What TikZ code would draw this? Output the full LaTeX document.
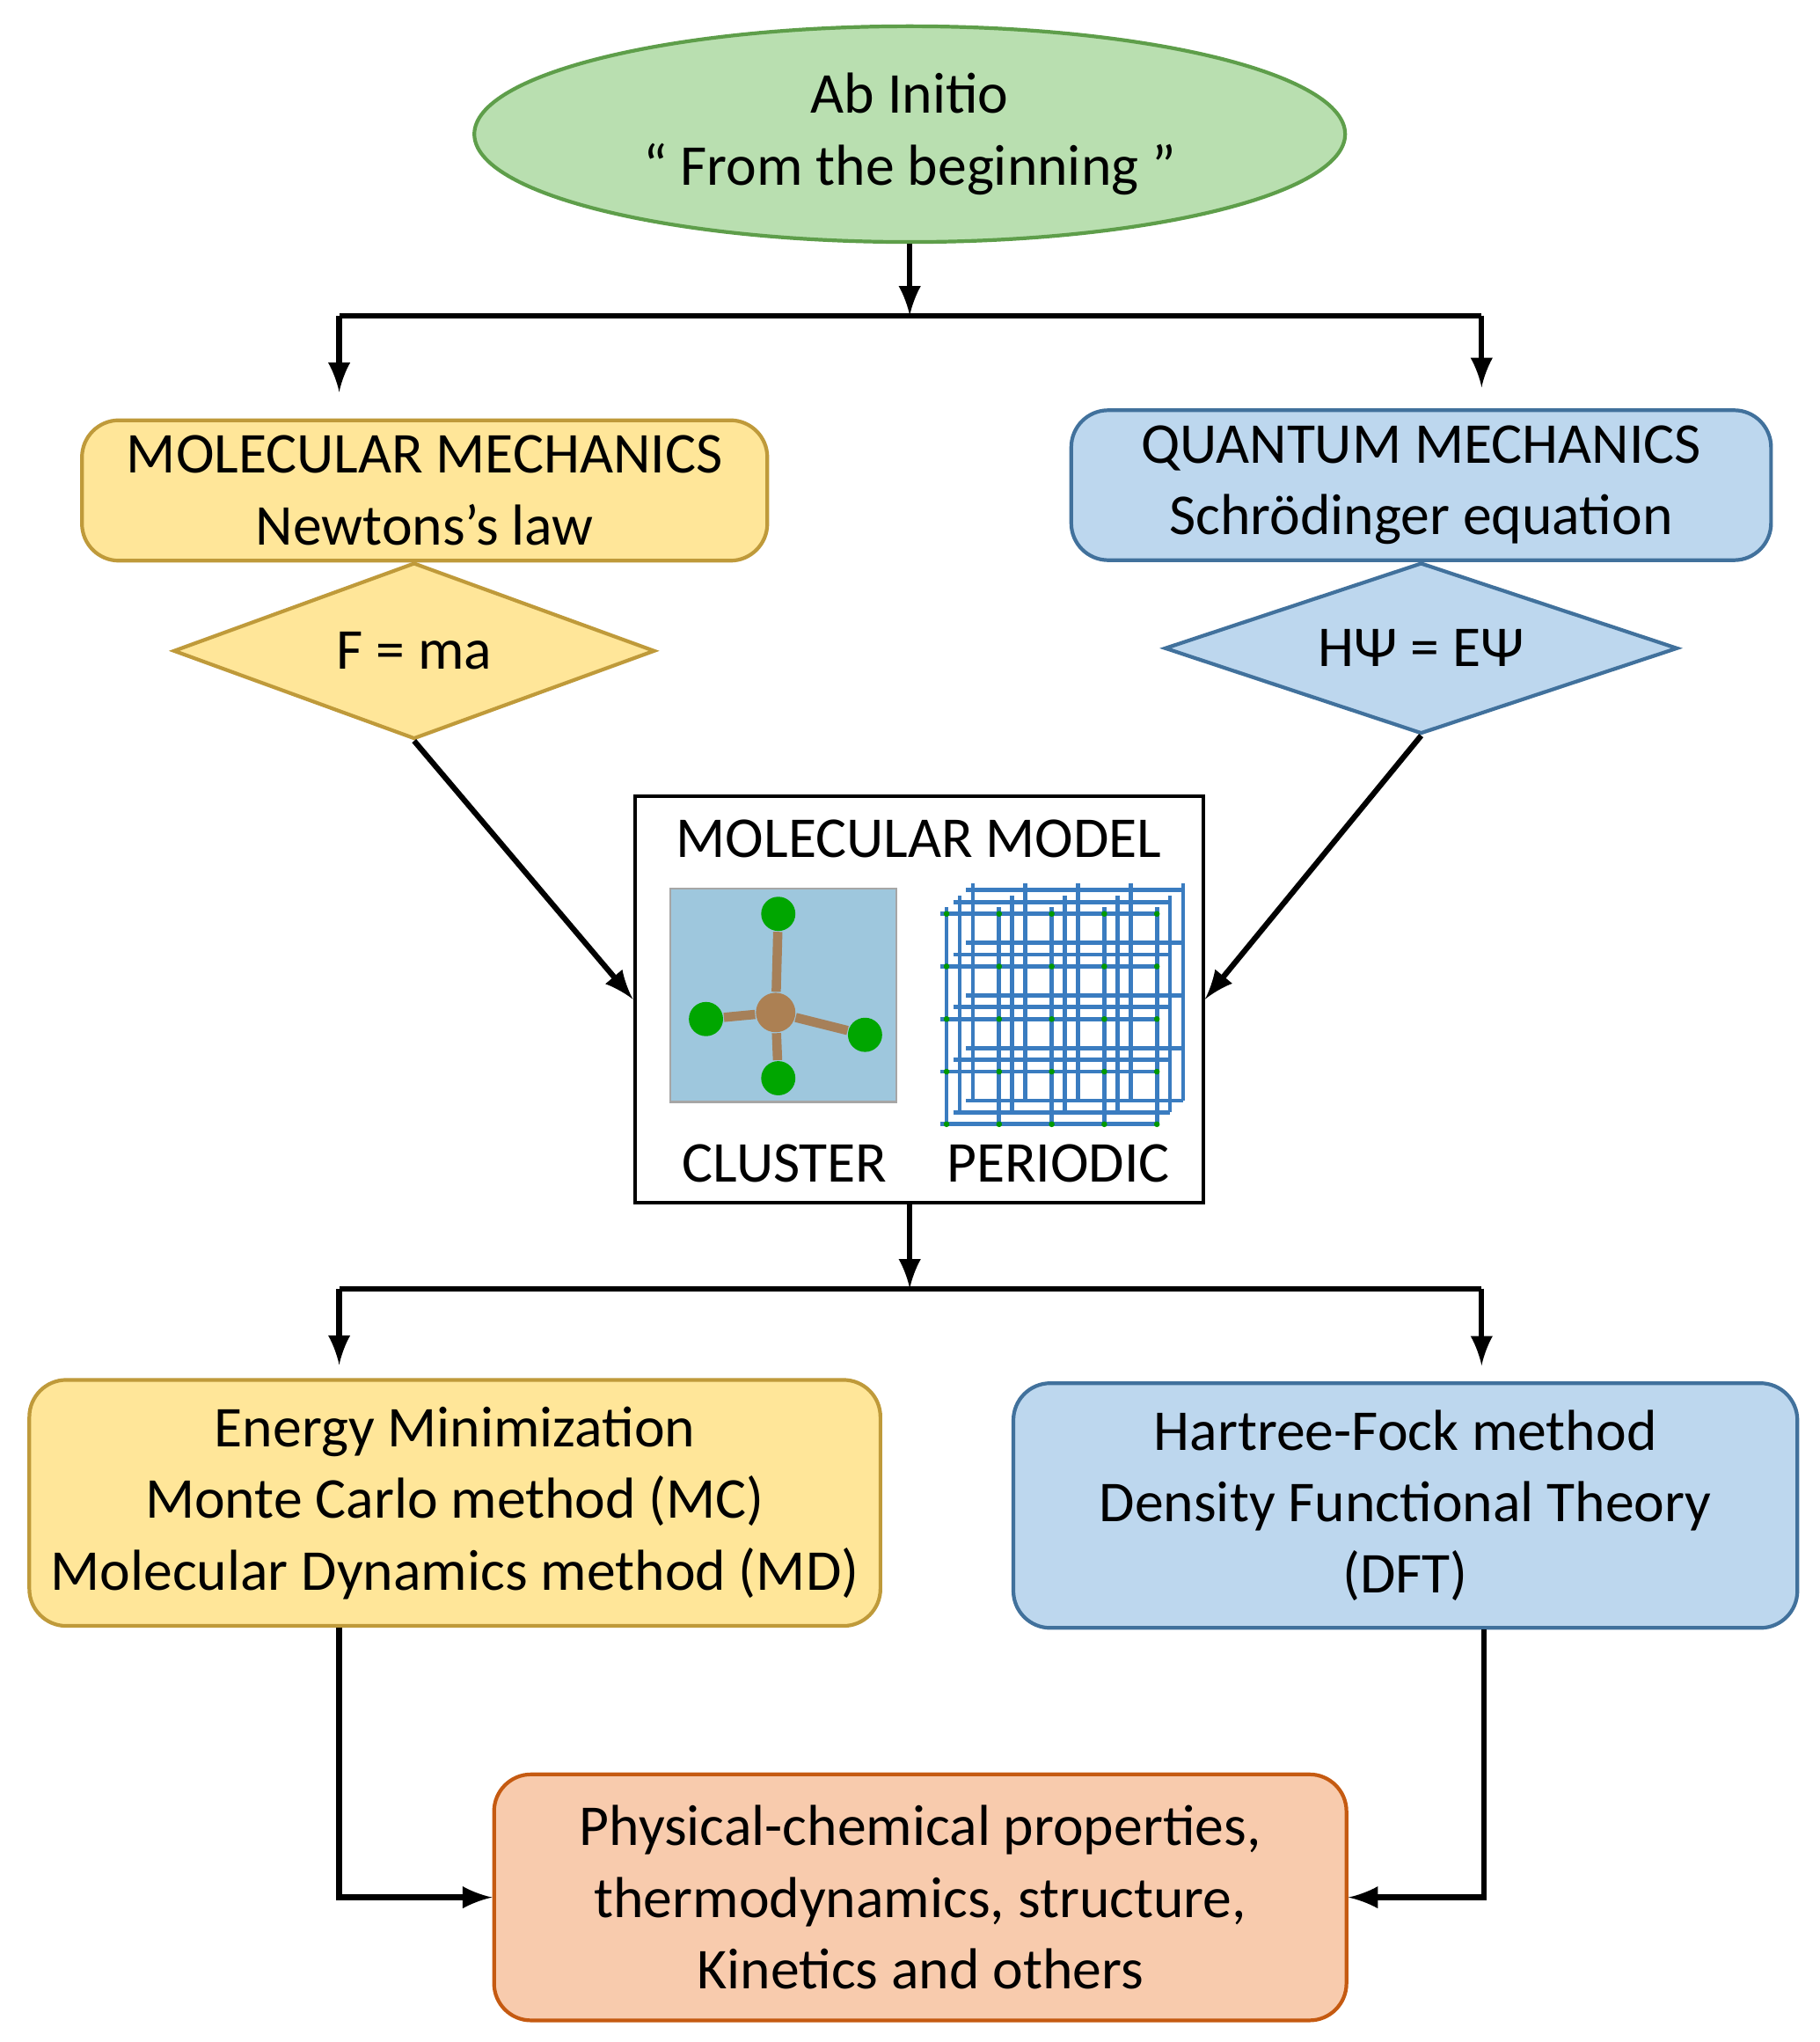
\documentclass[tikz,border=0pt]{standalone}
\usepackage{fontspec}
\setmainfont{Carlito}
\usetikzlibrary{arrows,shapes,positioning}
\definecolor{greenfill}{HTML}{B9DFB0}
\definecolor{greenline}{HTML}{5E9E4A}
\definecolor{yellowfill}{HTML}{FFE699}
\definecolor{yellowline}{HTML}{BF9A3A}
\definecolor{bluefill}{HTML}{BDD7EE}
\definecolor{blueline}{HTML}{41719C}
\definecolor{orangefill}{HTML}{F8CBAD}
\definecolor{orangeline}{HTML}{C55A11}
\definecolor{clusterbg}{HTML}{9EC7DD}
\definecolor{latticeblue}{HTML}{3A7CC0}
\tikzstyle{arrow} = [-latex, line width=1.2pt]
\tikzstyle{link} = [line width=1.2pt]
\tikzstyle{stdText} = [align=center, font=\fontsize{12.5}{15.5}\selectfont]
\tikzstyle{stdBox} = [stdText, shape=rectangle, rounded corners=8pt, line width=0.8pt, draw]
\tikzstyle{yellowBox} = [stdBox, fill=yellowfill, draw=yellowline]
\tikzstyle{blueBox} = [stdBox, fill=bluefill, draw=blueline]
\tikzstyle{stdDiamond} = [stdText, shape=diamond, aspect=2.8, inner sep=0pt, line width=0.8pt, draw]
\tikzstyle{atom} = [circle, fill=green!65!black, inner sep=0pt, minimum size=0.26cm]
\begin{document}
\begin{tikzpicture}[x=0.01cm, y=-0.01cm]
\useasboundingbox (0,0) rectangle (1384,1553);
% top
\node (abInitio) at (692,102) [stdText, ellipse, draw=greenline, fill=greenfill, line width=0.8pt,
  minimum width=6.62cm, minimum height=1.48cm] {Ab Initio\\`` From the beginning ''};
\coordinate (split1) at (692,240);
\coordinate (split1L) at (258,240);
\coordinate (split1R) at (1127,240);
% mechanics branches
\node (molMech) at (323,373) [yellowBox, minimum width=5.21cm, minimum height=1.06cm] {MOLECULAR MECHANICS\\Newtons's law};
\node (newton) at (315,495) [stdDiamond, fill=yellowfill, draw=yellowline, minimum width=3.66cm, minimum height=1.34cm] {F = ma};
\node (quantMech) at (1081,369) [blueBox, minimum width=5.32cm, minimum height=1.06cm] {QUANTUM MECHANICS\\Schrödinger equation};
\node (schrod) at (1081,493) [stdDiamond, fill=bluefill, draw=blueline, minimum width=3.9cm, minimum height=1.3cm] {HΨ = EΨ};
% model
\node (model) at (699,760) [draw, line width=0.8pt, minimum width=4.32cm, minimum height=3.09cm] {};
\node (modelTitle) at (699,638) [stdText] {MOLECULAR MODEL};
\node (clusterImg) at (596,757) [fill=clusterbg, draw=gray!70, minimum width=1.72cm, minimum height=1.62cm] {};
\node (center) at (590,770) [circle, fill=brown!70!gray, inner sep=0pt, minimum size=0.3cm] {};
\node (at1) at (592,695) [atom] {};
\node (at2) at (537,775) [atom] {};
\node (at3) at (658,787) [atom] {};
\node (at4) at (592,820) [atom] {};
\foreach \a in {at1,at2,at3,at4}
  \draw[line width=2pt, brown!60!gray] (center) -- (\a);
\foreach \dx/\dy in {20/-18,10/-9,0/0} {
  \foreach \i in {0,...,4} {
    \draw[latticeblue, line width=0.9pt] (720+\i*40+\dx,690+\dy) -- (720+\i*40+\dx,855+\dy);
    \draw[latticeblue, line width=0.9pt] (715+\dx,695+\i*40+\dy) -- (880+\dx,695+\i*40+\dy);
  }
}
\foreach \i in {0,...,4}
  \foreach \j in {0,...,4}
    \fill[green!60!black] (720+\i*40,695+\j*40) circle (2.2);
\node (clusterLbl) at (597,885) [stdText] {CLUSTER};
\node (periodicLbl) at (805,885) [stdText] {PERIODIC};
\coordinate (split2) at (692,980);
\coordinate (split2L) at (258,980);
\coordinate (split2R) at (1127,980);
% methods
\node (classical) at (346,1143) [yellowBox, minimum width=6.47cm, minimum height=1.87cm] {Energy Minimization\\Monte Carlo method (MC)\\Molecular Dynamics method (MD)};
\node (quantum) at (1069,1145) [blueBox, minimum width=5.96cm, minimum height=1.86cm] {Hartree-Fock method\\Density Functional Theory\\(DFT)};
\node (props) at (700,1443) [stdBox, fill=orangefill, draw=orangeline, minimum width=6.48cm, minimum height=1.87cm] {Physical-chemical properties,\\thermodynamics, structure,\\Kinetics and others};
% connectors
\draw[arrow] (abInitio.south) -- (split1);
\draw[link] (split1L) -- (split1R);
\draw[arrow] (split1L) -- ([yshift=0.2cm]molMech.north -| split1L);
\draw[arrow] (split1R) -- ([yshift=0.16cm]quantMech.north -| split1R);
\draw[arrow] (newton.south) -- (model.west);
\draw[arrow] (schrod.south) -- (model.east);
\draw[arrow] (model.south -| split2) -- (split2);
\draw[link] (split2L) -- (split2R);
\draw[arrow] (split2L) -- ([yshift=0.1cm]classical.north -| split2L);
\draw[arrow] (split2R) -- ([yshift=0.12cm]quantum.north -| split2R);
\draw[arrow] (classical.south -| split2L) |- (props.west);
\draw[arrow] (quantum.south -| 1129,0) |- (props.east);
\end{tikzpicture}
\end{document}
